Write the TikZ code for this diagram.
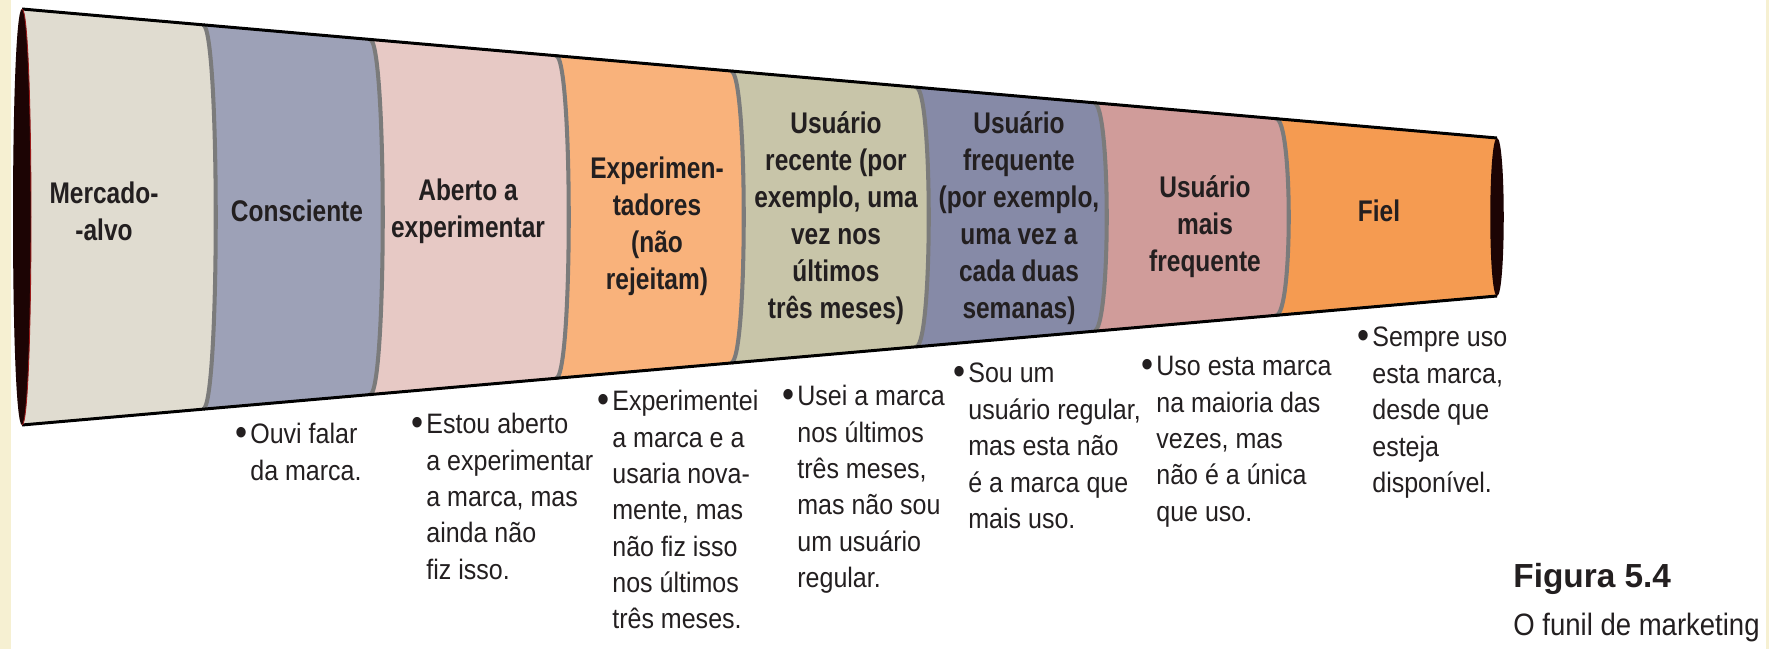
\documentclass[tikz,border=0pt]{standalone}
\usepackage{fontspec}
\usepackage{tikz}
\newfontfamily\bandfont[FakeStretch=0.82]{Liberation Sans}
\newfontfamily\notefont[FakeStretch=0.89]{Liberation Sans}
\newfontfamily\capfont{Liberation Sans}
\newcommand{\dotitem}{\llap{\raisebox{-0.8pt}{\fontsize{22}{22}\selectfont\textbullet}\hspace{1.5pt}}}
\definecolor{ink}{HTML}{231F20}
\definecolor{cream}{HTML}{F6F0D2}
\definecolor{rim}{HTML}{7B7B7B}
\definecolor{hole}{HTML}{1C0404}
\definecolor{holeedge}{HTML}{9A1A1A}
\definecolor{stA}{HTML}{E0DCD0}
\definecolor{stB}{HTML}{9DA1B7}
\definecolor{stC}{HTML}{E7C9C5}
\definecolor{stD}{HTML}{F9B27B}
\definecolor{stE}{HTML}{C8C5A9}
\definecolor{stF}{HTML}{868AA7}
\definecolor{stG}{HTML}{D09C9A}
\definecolor{stH}{HTML}{F59B51}

\begin{document}
\begin{tikzpicture}[
		x=0.02cm, y=-0.02cm,
		band/.style={align=center, inner sep=0pt, text=ink,
			font=\bandfont\bfseries\fontsize{17}{21}\selectfont},
		note/.style={align=left, anchor=north west, inner sep=0pt, text=ink,
			font=\notefont\fontsize{16}{20.7}\selectfont},
%		edge/.style={line width=1.7pt}
		]
		\useasboundingbox (0,0) rectangle (1769,649);
		\fill[cream] (0,0) rectangle (11,649);
		\fill[cream] (1766,0) rectangle (1769,649);

		\coordinate (lt) at (22,9);
		\coordinate (lb) at (22,425);
		\coordinate (rt) at (1497,138);
		\coordinate (rb) at (1497,296);

		% bands, each painted up to the narrow end
		\foreach \xa/\bulge/\col in {22/-12/stA, 203/17/stB, 370/17/stC, 556/17/stD,
				731/17/stE, 916/17/stF, 1094/17/stG, 1276/17/stH} {
			\pgfmathsetmacro{\yt}{9+0.08746*(\xa-22)}
			\pgfmathsetmacro{\yb}{425-0.08746*(\xa-22)}
			\pgfmathsetmacro{\bx}{\xa+\bulge}
			\fill[\col] (\xa,\yt) .. controls (\bx,\yt) and (\bx,\yb) .. (\xa,\yb) -- (rb) -- (rt) -- cycle;
		}
		\foreach \xa in {203,370,556,731,916,1094,1276} {
			\pgfmathsetmacro{\yt}{9+0.08746*(\xa-22)}
			\pgfmathsetmacro{\yb}{425-0.08746*(\xa-22)}
			\pgfmathsetmacro{\bx}{\xa+17}
			\draw[rim, line width=2.3pt] (\xa,\yt) .. controls (\bx,\yt) and (\bx,\yb) .. (\xa,\yb);
		}
		\draw[line width=1.7pt] (lt) -- (rt);
		\draw[line width=1.7pt] (lb) -- (rb);

		\fill[hole] (lt) .. controls (10,9) and (10,425) .. (lb) .. controls (34,425) and (34,9) .. (lt);
		\draw[holeedge, line width=0.5pt] (lt) .. controls (34,9) and (34,425) .. (lb);
		\fill[hole] (rt) .. controls (1506,138) and (1506,296) .. (rb) .. controls (1488,296) and (1488,138) .. (rt);

		\node[band] (mercado) at (104,211) {Mercado-\\-alvo};
		\node[band] (consciente) at (297,211) {Consciente};
		\node[band] (aberto) at (468,211) {Aberto a\\experimentar};
		\node[band] (experim) at (657,226) {Experimen-\\tadores\\(não\\rejeitam)};
		\node[band] (recente) at (836,218) {Usuário\\recente (por\\exemplo, uma\\vez nos\\últimos\\três meses)};
		\node[band] (frequente) at (1019,218) {Usuário\\frequente\\(por exemplo,\\uma vez a\\cada duas\\semanas)};
		\node[band] (maisfreq) at (1205,227) {Usuário\\mais\\frequente};
		\node[band] (fiel) at (1379,211) {Fiel};

		\node[note] (ouvi) at (250,423) {\dotitem Ouvi falar\\da marca.};
		\node[note] (estou) at (426,413) {\dotitem Estou aberto\\a experimentar\\a marca, mas\\ainda não\\fiz isso.};
		\node[note] (experimentei) at (612,390) {\dotitem Experimentei\\a marca e a\\usaria nova-\\mente, mas\\não fiz isso\\nos últimos\\três meses.};
		\node[note] (usei) at (797,385) {\dotitem Usei a marca\\nos últimos\\três meses,\\mas não sou\\um usuário\\regular.};
		\node[note] (souum) at (968,363) {\dotitem Sou um\\usuário regular,\\mas esta não\\é a marca que\\mais uso.};
		\node[note] (usoesta) at (1156,356) {\dotitem Uso esta marca\\na maioria das\\vezes, mas\\não é a única\\que uso.};
		\node[note] (sempre) at (1372,327) {\dotitem Sempre uso\\esta marca,\\desde que\\esteja\\disponível.};

		\node[anchor=west, inner sep=0pt, text=ink, font=\capfont\bfseries\fontsize{19}{22}\selectfont] (fignum) at (1513,579) {Figura 5.4};
		\node[anchor=west, inner sep=0pt, text=ink, font=\notefont\fontsize{17.6}{21}\selectfont] (figcap) at (1513,627) {O funil de marketing};
\end{tikzpicture}
\end{document}
